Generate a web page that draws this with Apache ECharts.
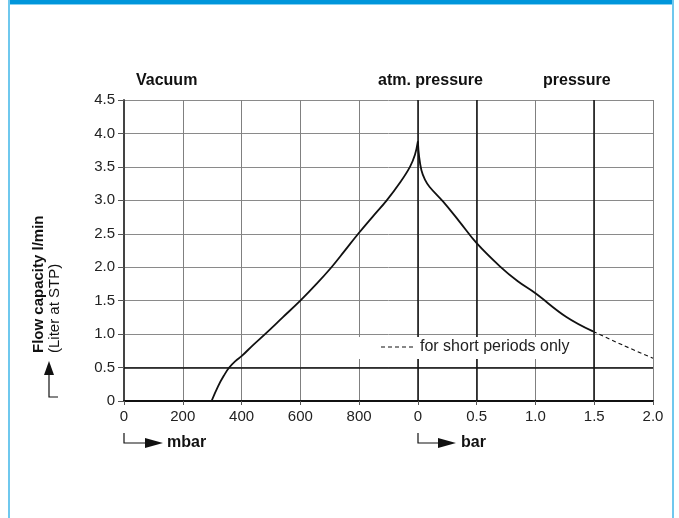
<!DOCTYPE html>
<html><head><meta charset="utf-8">
<script src="https://cdn.jsdelivr.net/npm/echarts@6/dist/echarts.min.js"></script>
<style>html,body{margin:0;padding:0;background:#fff}#c{width:679px;height:518px}</style>
</head><body><div id="c"></div>
<script>
// Tick labels of the combined x axis (mbar on the left, bar on the right)
const xTickLabels = ['0','200','400','600','800','0','0.5','1.0','1.5','2.0'];
const yTickLabels = ['0','0.5','1.0','1.5','2.0','2.5','3.0','3.5','4.0','4.5'];
// Vacuum branch: pressure in mbar, flow l/min
const vacMbar = [298, 320, 340, 358, 380, 400, 440, 480, 540, 600, 655, 706, 750, 797, 845, 894, 940, 973, 990, 1000];
const vacFlow = [0, 0.22, 0.38, 0.50, 0.60, 0.67, 0.84, 1.00, 1.25, 1.50, 1.75, 2.00, 2.24, 2.50, 2.75, 3.00, 3.27, 3.50, 3.68, 3.88];
// Pressure branch: overpressure in bar, flow l/min
const presBar = [0, 0.01, 0.03, 0.06, 0.10, 0.215, 0.35, 0.5, 0.70, 0.85, 1.0, 1.26, 1.49];
const presFlow = [3.88, 3.66, 3.45, 3.31, 3.20, 2.98, 2.69, 2.36, 2.01, 1.79, 1.61, 1.26, 1.04];
// Short-period branch (dashed)
const shortBar = [1.49, 1.75, 2.0];
const shortFlow = [1.04, 0.83, 0.64];

const FONT = "'Liberation Sans', Arial, sans-serif";
const vacX = v => v / 200;      // mbar -> axis unit
const barX = b => 5 + b * 2;    // bar  -> axis unit

const vacData = vacMbar.map((m, i) => [vacX(m), vacFlow[i]]);
const presData = presBar.map((b, i) => [barX(b), presFlow[i]]);
const shortData = shortBar.map((b, i) => [barX(b), shortFlow[i]]);

const chart = echarts.init(document.getElementById('c'), null, {renderer: 'canvas'});
const black = '#111';
chart.setOption({
  animation: false,
  backgroundColor: '#fff',
  textStyle: {fontFamily: FONT},
  grid: {left: 124, right: 26, top: 100, bottom: 117, containLabel: false},
  xAxis: {
    type: 'value', min: 0, max: 9, interval: 1,
    axisLine: {show: true, onZero: false, lineStyle: {color: black, width: 2}},
    axisTick: {show: true, length: 4, lineStyle: {color: '#555'}},
    axisLabel: {color: '#222', fontSize: 15, fontFamily: FONT, margin: 8,
      formatter: v => xTickLabels[Math.round(v)]},
    splitLine: {show: true, lineStyle: {color: '#808080', width: 1}}
  },
  yAxis: {
    type: 'value', min: 0, max: 4.5, interval: 0.5,
    axisLine: {show: true, lineStyle: {color: '#444', width: 2}},
    axisTick: {show: true, length: 6, lineStyle: {color: '#555'}},
    axisLabel: {color: '#222', fontSize: 15, fontFamily: FONT, margin: 9,
      formatter: v => yTickLabels[Math.round(v * 2)]},
    splitLine: {show: true, lineStyle: {color: '#8a8a8a', width: 1}}
  },
  series: [
    {type: 'line', data: [], silent: true,
      markLine: {silent: true, symbol: 'none', label: {show: false},
        lineStyle: {color: black, width: 1.5, type: 'solid'},
        data: [{xAxis: barX(0)}, {xAxis: barX(0.5)}, {xAxis: barX(1.5)}, {yAxis: 0.5}]}},
    {type: 'line', data: vacData, smooth: 0.4, showSymbol: false, silent: true,
      lineStyle: {color: black, width: 1.8}},
    {type: 'line', data: presData, smooth: 0.4, showSymbol: false, silent: true,
      lineStyle: {color: black, width: 1.8}},
    {type: 'line', data: shortData, smooth: 0.3, showSymbol: false, silent: true,
      lineStyle: {color: black, width: 1.1, type: [4, 3]}}
  ],
  graphic: [
    // frame
    {type: 'rect', shape: {x: 8, y: 0, width: 666, height: 4}, style: {fill: '#0096db'}, z: 100},
    {type: 'rect', shape: {x: 10, y: 4, width: 662, height: 1}, style: {fill: '#86d0f0'}, z: 100},
    {type: 'rect', shape: {x: 8, y: 0, width: 2, height: 518}, style: {fill: '#6fc8ee'}, z: 100},
    {type: 'rect', shape: {x: 672, y: 0, width: 2, height: 518}, style: {fill: '#6fc8ee'}, z: 100},
    // headers
    {type: 'text', x: 136, y: 81, style: {text: 'Vacuum', font: 'bold 16px ' + FONT, fill: '#111', verticalAlign: 'middle'}},
    {type: 'text', x: 378, y: 81, style: {text: 'atm. pressure', font: 'bold 16px ' + FONT, fill: '#111', verticalAlign: 'middle'}},
    {type: 'text', x: 543, y: 81, style: {text: 'pressure', font: 'bold 16px ' + FONT, fill: '#111', verticalAlign: 'middle'}},
    // legend note with white box
    {type: 'rect', shape: {x: 352, y: 337, width: 226, height: 22}, style: {fill: '#fff'}, z: 50},
    {type: 'line', shape: {x1: 381, y1: 347, x2: 415, y2: 347}, style: {stroke: '#111', lineWidth: 1.1, lineDash: [4, 3]}, z: 51},
    {type: 'text', x: 420, y: 347, z: 51, style: {text: 'for short periods only', font: '16px ' + FONT, fill: '#222', verticalAlign: 'middle'}},
    // y axis title
    {type: 'text', x: 39, y: 353, rotation: Math.PI / 2, style: {text: 'Flow capacity l/min', font: 'bold 15px ' + FONT, fill: '#111', align: 'left', verticalAlign: 'middle'}},
    {type: 'text', x: 55, y: 353, rotation: Math.PI / 2, style: {text: '(Liter at STP)', font: '15px ' + FONT, fill: '#111', align: 'left', verticalAlign: 'middle'}},
    // y arrow
    {type: 'polygon', shape: {points: [[49, 361], [44, 375], [54, 375]]}, style: {fill: '#111'}},
    {type: 'polyline', shape: {points: [[49, 374], [49, 397], [58, 397]]}, style: {stroke: '#111', lineWidth: 1.2, fill: null}},
    // mbar arrow
    {type: 'polyline', shape: {points: [[124, 433], [124, 443], [146, 443]]}, style: {stroke: '#111', lineWidth: 1.2, fill: null}},
    {type: 'polygon', shape: {points: [[145, 438], [163, 443], [145, 448]]}, style: {fill: '#111'}},
    {type: 'text', x: 167, y: 443, style: {text: 'mbar', font: 'bold 16px ' + FONT, fill: '#111', verticalAlign: 'middle'}},
    // bar arrow
    {type: 'polyline', shape: {points: [[418, 433], [418, 443], [439, 443]]}, style: {stroke: '#111', lineWidth: 1.2, fill: null}},
    {type: 'polygon', shape: {points: [[438, 438], [456, 443], [438, 448]]}, style: {fill: '#111'}},
    {type: 'text', x: 461, y: 443, style: {text: 'bar', font: 'bold 16px ' + FONT, fill: '#111', verticalAlign: 'middle'}}
  ]
});
</script></body></html>
